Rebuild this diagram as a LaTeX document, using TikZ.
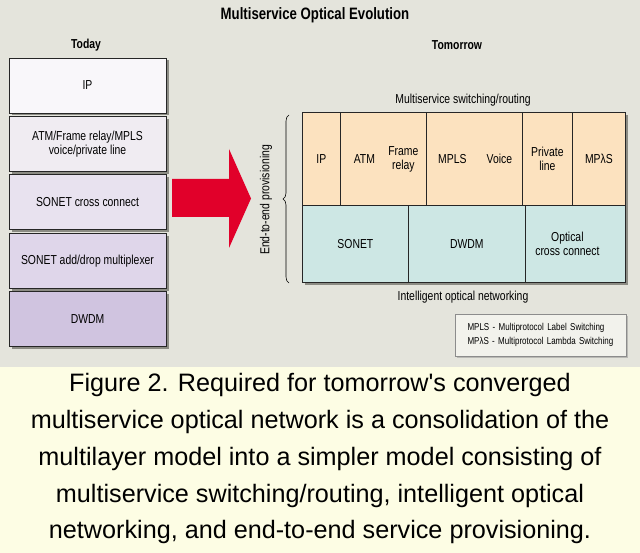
\documentclass[tikz,border=0pt]{standalone}
\usepackage{fontspec}
\setmainfont{Liberation Sans}
\newfontfamily\cond[FakeStretch=0.8]{Liberation Sans}
\usetikzlibrary{positioning,shadows,decorations.pathreplacing}
\definecolor{bggray}{HTML}{E4E4DC}
\definecolor{capyellow}{HTML}{FDFDE4}
\definecolor{shadegray}{HTML}{8C8C84}
\definecolor{ipfill}{HTML}{F9F7FA}
\definecolor{atmfill}{HTML}{F0ECF2}
\definecolor{sxcfill}{HTML}{E8E2EF}
\definecolor{admfill}{HTML}{DFD6EA}
\definecolor{dwdmfill}{HTML}{D0C4E0}
\definecolor{peach}{HTML}{FCE2BF}
\definecolor{aqua}{HTML}{CDE7E4}
\definecolor{arrowred}{HTML}{E1002A}
\definecolor{keyfill}{HTML}{F2F2EC}
\tikzset{
  heading/.style={font=\cond\bfseries\fontsize{13}{15}\selectfont, inner sep=0pt},
  lbl/.style={font=\cond\fontsize{13}{14}\selectfont, align=center, inner sep=0pt},
  layer/.style={draw=black!85, line width=0.9pt, minimum width=157pt, minimum height=55pt,
    inner sep=0pt, align=center, font=\cond\fontsize{13}{14}\selectfont,
    drop shadow={shadow xshift=2.5pt, shadow yshift=-2.5pt, fill=shadegray, opacity=1}},
  cell/.style={draw=black!85, line width=0.8pt, anchor=north west, inner sep=0pt,
    align=center, font=\cond\fontsize{13}{14}\selectfont},
  captext/.style={font=\fontsize{25.2}{30}\selectfont, anchor=base, inner sep=0pt}
}
\begin{document}
\begin{tikzpicture}[x=1pt,y=-1pt]
\useasboundingbox (0,0) rectangle (640,553);
\fill[bggray] (0,0) rectangle (640,367);
\fill[capyellow] (0,367) rectangle (640,553);

% headings
\node[heading, font=\cond\bfseries\fontsize{16.5}{18}\selectfont] (title) at (315,15) {Multiservice Optical Evolution};
\node[heading] (today) at (86,45) {Today};
\node[heading] (tomorrow) at (457,45) {Tomorrow};

% today: the layered model
\node[layer, fill=ipfill] (ip) at (87.5,85.5) {IP};
\node[layer, fill=atmfill, below=2.5pt of ip] (atm) {ATM/Frame relay/MPLS\\voice/private line};
\node[layer, fill=sxcfill, below=2.5pt of atm] (sxc) {SONET cross connect};
\node[layer, fill=admfill, below=2.5pt of sxc] (adm) {SONET add/drop multiplexer};
\node[layer, fill=dwdmfill, below=2.5pt of adm] (dwdm) {DWDM};

% big arrow
\fill[arrowred] (172,179) -- (229,179) -- (229,149) -- (251,198.5) -- (229,248) -- (229,217) -- (172,217) -- cycle;

% tomorrow: two layers
\fill[shadegray] (305,115) rectangle (628,285);
\node[cell, fill=peach, minimum width=38pt, minimum height=93pt] (cip) at (302,112) {IP};
\node[cell, fill=peach, minimum width=86pt, minimum height=93pt] (catm) at (340,112) {};
\node[cell, fill=peach, minimum width=96pt, minimum height=93pt] (cmpls) at (426,112) {};
\node[cell, fill=peach, minimum width=50pt, minimum height=93pt] (cpl) at (522,112) {Private\\line};
\node[cell, fill=peach, minimum width=53pt, minimum height=93pt] (cmpls2) at (572,112) {MPλS};
\node[lbl] (atmt) at ([xshift=-19pt]catm.center) {ATM};
\node[lbl] (fr) at ([xshift=20pt]catm.center) {Frame\\relay};
\node[lbl] (mplst) at ([xshift=-22pt]cmpls.center) {MPLS};
\node[lbl] (voice) at ([xshift=25pt]cmpls.center) {Voice};

\node[cell, fill=aqua, minimum width=106pt, minimum height=77pt] (csonet) at (302,205) {SONET};
\node[cell, fill=aqua, minimum width=117pt, minimum height=77pt] (cdwdm) at (408,205) {DWDM};
\node[cell, fill=aqua, minimum width=100pt, minimum height=77pt] (coxc) at (525,205) {};
\node[lbl] (oxc) at ([xshift=-8pt]coxc.center) {Optical\\cross connect};

\node[lbl] (msr) at (463,100) {Multiservice switching/routing};
\node[lbl] (ion) at (463,297) {Intelligent optical networking};

% end-to-end brace
\coordinate (bb) at (289,283);
\coordinate (bt) at (289,115);
\draw[line width=0.6pt, decorate, decoration={brace, amplitude=6pt}] (bb) -- (bt);
\node[lbl, rotate=90] (e2e) at (266,200) {End-to-end provisioning};

% key
\node[draw=black!45, line width=0.8pt, fill=keyfill, minimum height=42pt, text width=146pt,
  inner xsep=12.5pt, align=left, font=\cond\fontsize{10}{14}\selectfont,
  drop shadow={shadow xshift=2pt, shadow yshift=-2pt, fill=shadegray!60, opacity=1}]
  (key) at (540.5,335) {MPLS - Multiprotocol Label Switching\\MPλS - Multiprotocol Lambda Switching};

% caption
\node[captext] (cap1) at (320,391) {Figure 2. Required for tomorrow\textquotesingle s converged};
\node[captext] (cap2) at (320,428) {multiservice optical network is a consolidation of the};
\node[captext] (cap3) at (320,465) {multilayer model into a simpler model consisting of};
\node[captext] (cap4) at (320,502) {multiservice switching/routing, intelligent optical};
\node[captext] (cap5) at (320,538) {networking, and end-to-end service provisioning.};
\end{tikzpicture}
\end{document}
